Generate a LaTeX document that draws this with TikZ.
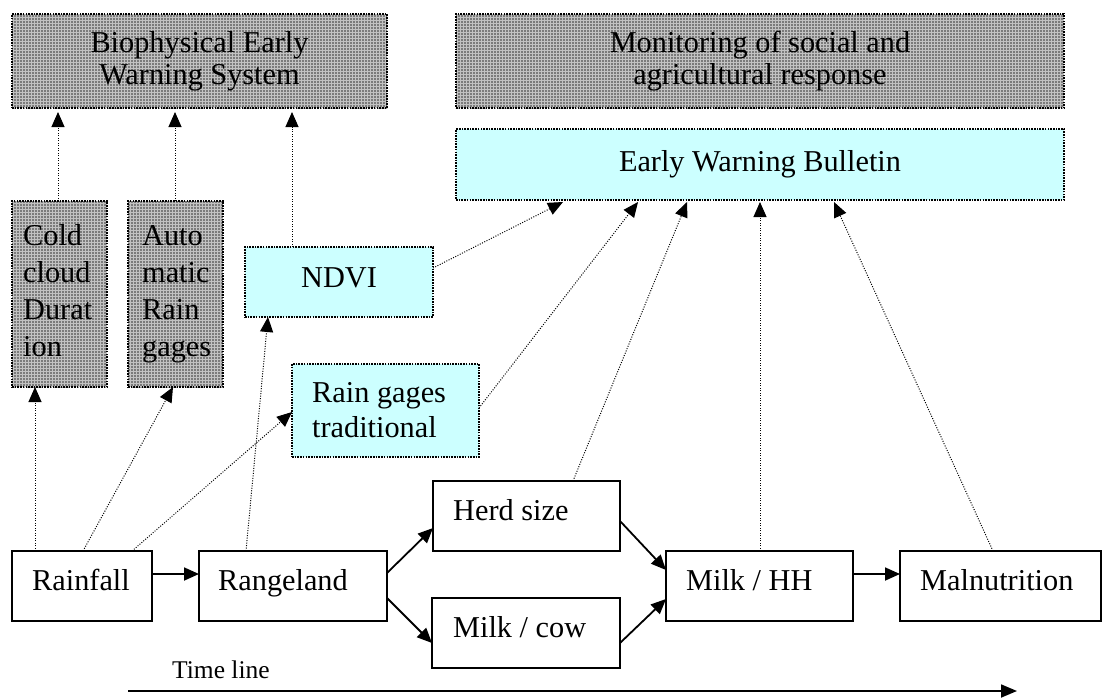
\documentclass[tikz,border=0pt]{standalone}
\usepackage{fontspec}
\setmainfont{Liberation Serif}
\usetikzlibrary{arrows.meta,patterns.meta,calc}
\definecolor{paleCyan}{HTML}{CCFFFF}
\begin{document}
\begin{tikzpicture}[x=1pt,y=-1pt,
  boxbase/.style={inner sep=0pt, outer sep=0pt, anchor=north west},
  solidbox/.style={boxbase, draw=black, line width=1.8pt, fill=white},
  dotborder/.style={boxbase, draw=black, line width=1.6pt, dash pattern=on 1.6pt off 1.1pt},
  graybox/.style={dotborder, preaction={fill=gray!48}, pattern={Dots[distance=3pt,radius=0.8pt]}, pattern color=black!80},
  cyanbox/.style={dotborder, fill=paleCyan},
  sz/.style 2 args={minimum width=#1, minimum height=#2},
  lbl/.style={inner sep=0pt, anchor=base west, font=\fontsize{30.3}{37}\selectfont},
  clbl/.style={lbl, anchor=base},
  dotarrow/.style={line width=1pt, dash pattern=on 1pt off 1.5pt, -{Triangle[length=15pt,width=13pt]}},
  solidarrow/.style={line width=1.8pt, -{Triangle[length=15pt,width=13pt]}},
]
\useasboundingbox (0,0) rectangle (1104,697);

% boxes
\node[graybox, sz={375}{94}] (bio) at (12,14) {};
\node[graybox, sz={608}{94}] (mon) at (456,14) {};
\node[cyanbox, sz={608}{71}] (ewb) at (456,129) {};
\node[graybox, sz={95}{186}] (cold) at (12,201) {};
\node[graybox, sz={95}{186}] (auto) at (128,201) {};
\node[cyanbox, sz={188}{70}] (ndvi) at (245,247) {};
\node[cyanbox, sz={187}{93}] (rgt) at (292,364) {};
\node[solidbox, sz={140}{70}] (rain) at (12,551) {};
\node[solidbox, sz={188}{70}] (range) at (199,551) {};
\node[solidbox, sz={187}{70}] (herd) at (433,481) {};
\node[solidbox, sz={188}{70}] (mcow) at (432,598) {};
\node[solidbox, sz={187}{70}] (mhh) at (666,551) {};
\node[solidbox, sz={201}{70}] (maln) at (900,551) {};

% texts
\node[clbl, font=\fontsize{30.3}{32}\selectfont] (biot) at (199.5,52) {\begin{tabular}[t]{@{}c@{}}Biophysical Early\\Warning System\end{tabular}};
\node[clbl, font=\fontsize{30.3}{32}\selectfont] (mont) at (760,52) {\begin{tabular}[t]{@{}c@{}}Monitoring of social and\\agricultural response\end{tabular}};
\node[clbl] (ewbt) at (760,171) {Early Warning Bulletin};
\node[lbl] (coldt) at (23,245) {\begin{tabular}[t]{@{}l@{}}Cold\\cloud\\Durat\\ion\end{tabular}};
\node[lbl] (autot) at (142,245) {\begin{tabular}[t]{@{}l@{}}Auto\\matic\\Rain\\gages\end{tabular}};
\node[clbl] (ndvit) at (339,287) {NDVI};
\node[lbl, font=\fontsize{30.3}{35}\selectfont] (rgtt) at (312,402) {\begin{tabular}[t]{@{}l@{}}Rain gages\\traditional\end{tabular}};
\node[lbl] (raint) at (32,590) {Rainfall};
\node[lbl] (ranget) at (218,590) {Rangeland};
\node[lbl] (herdt) at (453,520) {Herd size};
\node[lbl] (mcowt) at (453,637) {Milk / cow};
\node[lbl] (mhht) at (686,590) {Milk / HH};
\node[lbl] (malnt) at (920,590) {Malnutrition};
\node[lbl, font=\fontsize{25.5}{30}\selectfont] (timet) at (172,678) {Time line};

% time line
\coordinate (tl1) at (128,691);
\coordinate (tl2) at (1017,691);
\draw[line width=1.8pt, -{Triangle[length=16pt,width=13pt]}] (tl1) -- (tl2);

% solid causal arrows
\draw[solidarrow] ($(rain.north east)+(0,23)$) -- ($(range.north west)+(0,23)$);
\draw[solidarrow] ($(range.north east)+(0,22)$) -- ($(herd.north west)+(0,47)$);
\draw[solidarrow] ($(range.north east)+(0,47)$) -- ($(mcow.north west)+(0,45)$);
\draw[solidarrow] ($(herd.north east)+(0,40)$) -- ($(mhh.north west)+(0,19)$);
\draw[solidarrow] ($(mcow.north east)+(0,45)$) -- ($(mhh.north west)+(0,48)$);
\draw[solidarrow] ($(mhh.north east)+(0,23)$) -- ($(maln.north west)+(0,23)$);

% dotted monitoring arrows
\draw[dotarrow] ($(rain.north west)+(23,0)$) -- ($(cold.south west)+(23,0)$);
\draw[dotarrow] ($(rain.north west)+(71,0)$) -- ($(auto.south west)+(45,0)$);
\draw[dotarrow] ($(rain.north west)+(120,0)$) -- ($(rgt.north west)+(0,48)$);
\draw[dotarrow] ($(range.north west)+(47,0)$) -- ($(ndvi.south west)+(23,0)$);
\draw[dotarrow] ($(cold.north west)+(46,0)$) -- ($(bio.south west)+(46,4)$);
\draw[dotarrow] ($(auto.north west)+(47,0)$) -- ($(bio.south west)+(163,4)$);
\draw[dotarrow] ($(ndvi.north west)+(47,0)$) -- ($(bio.south west)+(280,4)$);
\draw[dotarrow] ($(ndvi.north east)+(0,21)$) -- ($(ewb.south west)+(107,2)$);
\draw[dotarrow] ($(rgt.north east)+(0,44)$) -- ($(ewb.south west)+(182,2)$);
\draw[dotarrow] ($(herd.north west)+(140,0)$) -- ($(ewb.south west)+(231,2)$);
\draw[dotarrow] ($(mhh.north west)+(94,0)$) -- ($(ewb.south west)+(304,2)$);
\draw[dotarrow] ($(maln.north west)+(93,0)$) -- ($(ewb.south west)+(378,2)$);
\end{tikzpicture}
\end{document}
